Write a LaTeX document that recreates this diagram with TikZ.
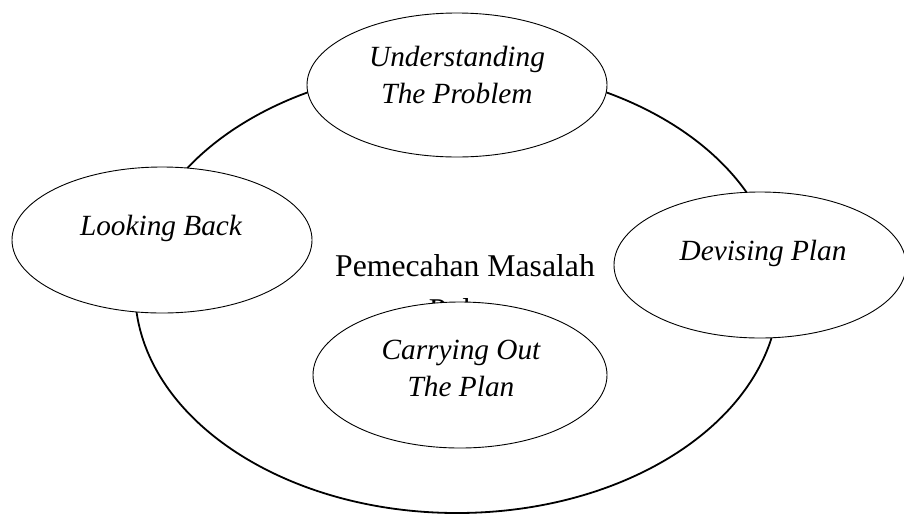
\documentclass[tikz,border=0pt]{standalone}
\usepackage{fontspec}
\setmainfont{Liberation Serif}

\begin{document}
\begin{tikzpicture}[x=1pt,y=-1pt,
  phase/.style={draw, line width=0.9pt, fill=white},
  phasetext/.style={font=\fontsize{29.3}{37}\selectfont\itshape, align=center, anchor=base},
  kerntext/.style={font=\fontsize{31.7}{44}\selectfont, align=center, anchor=base}]

\clip (0,0) rectangle (904,515);

%grosse Ellipse
\draw[line width=1.8pt] (457,290) ellipse (322 and 223);

\node[kerntext] (kern) at (465,320) {Pemecahan Masalah\\Polya};

%Phasen
\path[phase] (457,85) ellipse (150 and 72);
\node[phasetext] (understand) at (457,103) {Understanding\\The Problem};

\path[phase] (162,240) ellipse (150 and 73);
\node[phasetext] (lookback) at (161,235) {Looking Back};

\path[phase] (760,265) ellipse (146 and 73);
\node[phasetext] (devise) at (763,260) {Devising Plan};

\path[phase] (460,375) ellipse (147 and 73);
\node[phasetext] (carryout) at (461,396) {Carrying Out\\The Plan};

\end{tikzpicture}
\end{document}
